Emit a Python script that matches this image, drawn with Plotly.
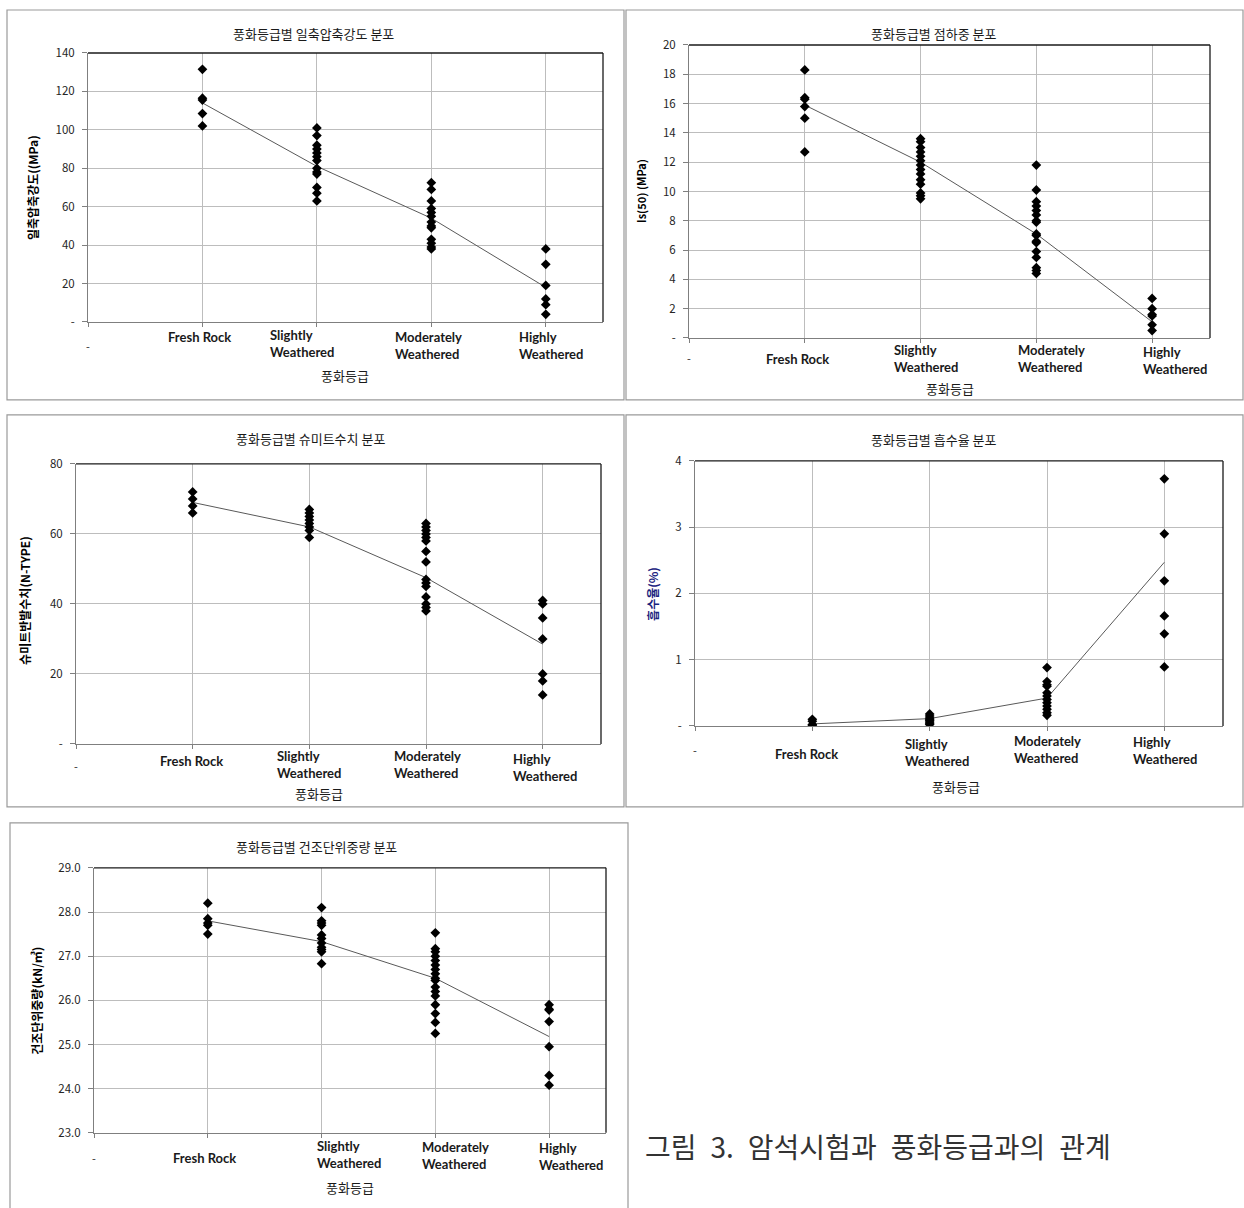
import plotly.graph_objects as go

W, H = 1244, 1208
# vertical placement: page offset and scale of the rendered figure
Y_OFF = 8.0
Y_SCALE = 0.987
FIG_H = 1216

# Weathering grades (category index on the x axis)
grade_names = ["Fresh Rock", "Slightly<br>Weathered", "Moderately<br>Weathered", "Highly<br>Weathered"]
grade_pos = [1, 2, 3, 4]

# Uniaxial compressive strength (MPa)
ucs_fresh = [131.5, 116.5, 115.5, 108.5, 102]
ucs_slight = [101, 97, 92, 90, 88, 86, 84, 80, 78, 77, 70, 67, 63]
ucs_moder = [72.5, 69, 63, 59, 57, 55, 52, 50, 49, 43, 41, 39, 38]
ucs_high = [38, 30, 19, 12, 9, 4]
ucs_mean = [114, 81, 54, 18]

# Point load index Is(50) (MPa)
is_fresh = [18.3, 16.4, 16.3, 15.8, 15.0, 12.7]
is_slight = [13.6, 13.4, 13.0, 12.7, 12.4, 12.1, 11.8, 11.5, 11.2, 10.8, 10.5, 9.9, 9.7, 9.5]
is_moder = [11.8, 10.1, 9.3, 9.0, 8.7, 8.4, 8.0, 7.9, 7.1, 7.0, 6.6, 6.5, 5.9, 5.5, 4.8, 4.6, 4.4]
is_high = [2.7, 2.0, 1.6, 1.5, 0.9, 0.5]
is_mean = [15.9, 12.0, 7.1, 1.1]

# Schmidt hammer rebound (N-type)
sch_fresh = [72, 70, 68, 66]
sch_slight = [67, 66, 65, 64, 63, 62, 61, 59]
sch_moder = [63, 62, 61, 60, 59, 58, 55, 52, 47, 46, 45, 42, 40, 39, 38]
sch_high = [41, 40, 36, 30, 20, 18, 14]
sch_mean = [69, 62, 47.5, 28.5]

# Water absorption (%)
abs_fresh = [0.10, 0.07, 0.02, 0.01]
abs_slight = [0.18, 0.15, 0.12, 0.10, 0.08, 0.06, 0.04, 0.02]
abs_moder = [0.88, 0.67, 0.62, 0.60, 0.50, 0.45, 0.40, 0.35, 0.30, 0.25, 0.20, 0.16]
abs_high = [3.73, 2.90, 2.19, 1.66, 1.39, 0.89]
abs_mean = [0.03, 0.11, 0.42, 2.47]

# Dry unit weight (kN/m3)
duw_fresh = [28.2, 27.85, 27.75, 27.7, 27.5]
duw_slight = [28.1, 27.8, 27.75, 27.7, 27.48, 27.4, 27.3, 27.2, 27.15, 27.1, 26.83]
duw_moder = [27.53, 27.17, 27.1, 27.0, 26.9, 26.8, 26.7, 26.6, 26.5, 26.45, 26.3,
             26.2, 26.1, 25.9, 25.7, 25.5, 25.25]
duw_high = [25.9, 25.8, 25.78, 25.52, 24.95, 24.3, 24.08]
duw_mean = [27.8, 27.33, 26.5, 25.18]

KFONT = "Noto Sans CJK KR"
LFONT = "Lato"

panels = [
    dict(title="풍화등급별 일축압축강도 분포", ytitle="일축압축강도((MPa)", ytitle_size=12,
         ytitle_color="#000", groups=[ucs_fresh, ucs_slight, ucs_moder, ucs_high], mean=ucs_mean,
         yrange=[0, 140], yticks=[0, 20, 40, 60, 80, 100, 120, 140],
         ytext=["-", "20", "40", "60", "80", "100", "120", "140"],
         plot=(88, 52, 603, 321), box=(7, 9, 624, 399), title_xy=(313, 33), xtitle_xy=(345, 375),
         ytitle_xy=(33, 187), dash_xy=(88, 345),
         labels=[(199, 336, "c"), (268, 342.5, "l"), (393, 345, "l"), (517, 345, "l")]),
    dict(title="풍화등급별 점하중 분포", ytitle="Is(50) (MPa)", ytitle_size=11,
         ytitle_color="#000", groups=[is_fresh, is_slight, is_moder, is_high], mean=is_mean,
         yrange=[0, 20], yticks=list(range(0, 21, 2)),
         ytext=["-"] + [str(v) for v in range(2, 21, 2)],
         plot=(689, 44, 1210, 337), box=(626, 9, 1243, 399), title_xy=(933, 33),
         xtitle_xy=(950, 388), ytitle_xy=(641, 190), dash_xy=(689, 357),
         labels=[(797, 358, "c"), (892, 358, "l"), (1016, 358, "l"), (1141, 360, "l")]),
    dict(title="풍화등급별 슈미트수치 분포", ytitle="슈미트반발수치(N-TYPE)", ytitle_size=12,
         ytitle_color="#000", groups=[sch_fresh, sch_slight, sch_moder, sch_high], mean=sch_mean,
         yrange=[0, 80], yticks=[0, 20, 40, 60, 80], ytext=["-", "20", "40", "60", "80"],
         plot=(76, 463, 601, 743), box=(7, 414, 624, 806), title_xy=(310, 438),
         xtitle_xy=(319, 793), ytitle_xy=(25, 600), dash_xy=(76, 765),
         labels=[(191, 760, "c"), (275, 764, "l"), (392, 764, "l"), (511, 766.5, "l")]),
    dict(title="풍화등급별 흡수율 분포", ytitle="흡수율(%)", ytitle_size=12,
         ytitle_color="#1a237e", groups=[abs_fresh, abs_slight, abs_moder, abs_high], mean=abs_mean,
         yrange=[0, 4], yticks=[0, 1, 2, 3, 4], ytext=["-", "1", "2", "3", "4"],
         plot=(695, 460, 1223, 725), box=(626, 414, 1243, 806), title_xy=(933, 439),
         xtitle_xy=(956, 786), ytitle_xy=(653, 593), dash_xy=(695, 749),
         labels=[(806, 753, "c"), (903, 752, "l"), (1012, 749, "l"), (1131, 750, "l")]),
    dict(title="풍화등급별 건조단위중량 분포", ytitle="건조단위중량(kN/㎥)", ytitle_size=12,
         ytitle_color="#000", groups=[duw_fresh, duw_slight, duw_moder, duw_high], mean=duw_mean,
         yrange=[23, 29], yticks=[23, 24, 25, 26, 27, 28, 29],
         ytext=["23.0", "24.0", "25.0", "26.0", "27.0", "28.0", "29.0"],
         plot=(94, 867, 606, 1132), box=(10, 822, 628, 1225), title_xy=(316, 846),
         xtitle_xy=(350, 1187), ytitle_xy=(37, 1000), dash_xy=(94, 1157),
         labels=[(204, 1157, "c"), (315, 1154, "l"), (420, 1155, "l"), (537, 1156, "l")]),
]


def px(x):
    return x / W


def py(y):
    return 1 - ((y - Y_OFF) / Y_SCALE) / FIG_H


def note(text, x, y, size, color="#1a1a1a", family=KFONT, weight="normal",
         xanchor="center", angle=0, align="center"):
    return dict(text=text, x=px(x), y=py(y), xref="paper", yref="paper", showarrow=False,
                xanchor=xanchor, yanchor="middle", align=align, textangle=angle,
                font=dict(family=family, size=size, color=color, weight=weight))


fig = go.Figure()
annotations = []
shapes = []

for i, p in enumerate(panels, start=1):
    xa = "x" if i == 1 else f"x{i}"
    ya = "y" if i == 1 else f"y{i}"
    x0, y0, x1, y1 = p["plot"]

    # scatter points for each grade
    xs, ys = [], []
    for g, vals in zip(grade_pos, p["groups"]):
        xs += [g] * len(vals)
        ys += vals
    fig.add_trace(go.Scatter(
        x=grade_pos, y=p["mean"], mode="lines", xaxis=xa, yaxis=ya,
        line=dict(color="#595959", width=1), showlegend=False, hoverinfo="skip"))
    fig.add_trace(go.Scatter(
        x=xs, y=ys, mode="markers", xaxis=xa, yaxis=ya,
        marker=dict(symbol="diamond", size=7.5, color="#000"), showlegend=False))

    xkey = "xaxis" if i == 1 else f"xaxis{i}"
    ykey = "yaxis" if i == 1 else f"yaxis{i}"
    fig.layout[xkey] = dict(
        domain=[px(x0), px(x1)], anchor=ya, range=[0, 4.5],
        tickvals=[0, 1, 2, 3, 4], ticktext=["", "", "", "", ""],
        showgrid=True, gridcolor="#bdbdbd", gridwidth=1.3,
        showline=True, linecolor="#7f7f7f", linewidth=1,
        ticks="outside", ticklen=4, tickcolor="#7f7f7f", zeroline=False, fixedrange=True)
    fig.layout[ykey] = dict(
        domain=[max(0, py(y1)), min(1, py(y0))], anchor=xa, range=p["yrange"],
        tickvals=p["yticks"], ticktext=p["ytext"],
        showgrid=True, gridcolor="#bdbdbd", gridwidth=1.3,
        showline=True, linecolor="#7f7f7f", linewidth=1,
        ticks="outside", ticklen=5, tickcolor="#7f7f7f", ticklabelstandoff=5,
        tickfont=dict(family=KFONT, size=11.5, color="#262626"), zeroline=False, fixedrange=True)

    # plot-area frame (dark top/right edges)
    shapes.append(dict(type="line", xref="paper", yref="paper", x0=px(x0), x1=px(x1),
                       y0=py(y0), y1=py(y0), line=dict(color="#1a1a1a", width=1.3)))
    shapes.append(dict(type="line", xref="paper", yref="paper", x0=px(x1), x1=px(x1),
                       y0=py(y0), y1=py(y1), line=dict(color="#1a1a1a", width=1.3)))
    # chart-area border
    bx0, by0, bx1, by1 = p["box"]
    shapes.append(dict(type="rect", xref="paper", yref="paper", x0=px(bx0), x1=px(bx1),
                       y0=py(by1), y1=py(by0), line=dict(color="#9a9a9a", width=1.2)))

    # chart title, axis titles
    annotations.append(note(p["title"], *p["title_xy"], 13))
    annotations.append(note("풍화등급", *p["xtitle_xy"], 13))
    annotations.append(note(p["ytitle"], *p["ytitle_xy"], p["ytitle_size"],
                            color=p["ytitle_color"], weight="bold", angle=-90))
    annotations.append(note("-", *p["dash_xy"], 11, color="#262626"))

    # weathering-grade labels under the x axis
    for name, (lx, ly, al) in zip(grade_names, p["labels"]):
        annotations.append(note(name, lx, ly, 13, family=LFONT, weight="bold",
                                xanchor="center" if al == "c" else "left", align="left"))

# figure caption
annotations.append(note("그림\u20023.\u2002암석시험과\u2002풍화등급과의\u2002관계", 643, 1145, 28,
                        color="#333333", xanchor="left", align="left"))

fig.update_layout(
    width=W, height=FIG_H, margin=dict(l=0, r=0, t=0, b=0),
    paper_bgcolor="white", plot_bgcolor="white",
    annotations=annotations, shapes=shapes, showlegend=False,
)

fig.write_html("out.html", config={"displayModeBar": False})
